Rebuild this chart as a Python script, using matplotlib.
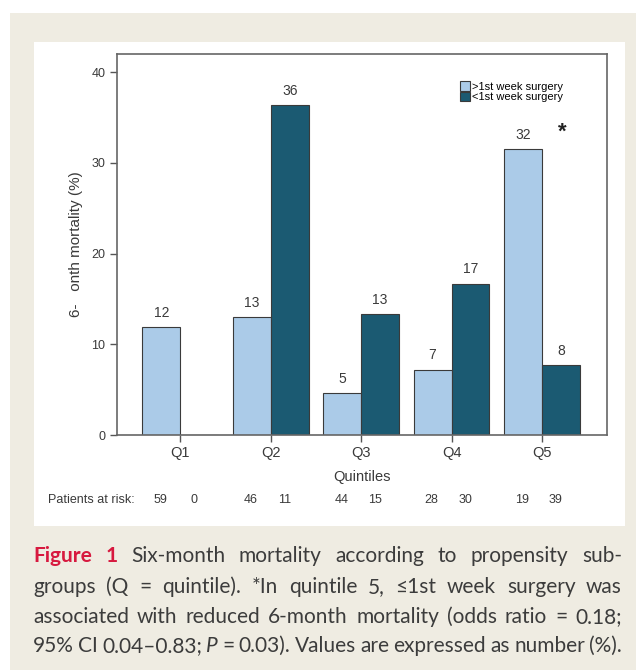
import matplotlib
matplotlib.use("Agg")
import matplotlib.pyplot as plt
from matplotlib.patches import Rectangle
from matplotlib.transforms import blended_transform_factory
import numpy as np

# data
quintiles = ["Q1", "Q2", "Q3", "Q4", "Q5"]
late_surgery = [11.9, 13.0, 4.6, 7.2, 31.5]     # >1st week surgery
early_surgery = [0.0, 36.4, 13.3, 16.7, 7.7]    # <1st week surgery
risk_late = [59, 46, 44, 28, 19]
risk_early = [0, 11, 15, 30, 39]
yticks = [0, 10, 20, 30, 40]

W, H = 636, 670
LIGHT = "#abcbe8"
DARK = "#1b5a72"
GREY = "#3a3a3a"

plt.rcParams["font.family"] = ["Liberation Sans", "DejaVu Sans"]


def fx(px):
    return px / W


def fy(py):
    return 1 - py / H


fig = plt.figure(figsize=(W / 100, H / 100), dpi=100)
fig.patch.set_facecolor("white")

# beige page box and white chart panel
fig.add_artist(Rectangle((fx(10), 0), 1 - fx(10), fy(13), transform=fig.transFigure,
                         facecolor="#efece2", edgecolor="none", zorder=-2))
fig.add_artist(Rectangle((fx(34), fy(526)), fx(625 - 34), (526 - 42) / H,
                         transform=fig.transFigure, facecolor="white",
                         edgecolor="none", zorder=-1))

ax = fig.add_axes([fx(117), fy(435), fx(607 - 117), (435 - 54) / H])
x = np.arange(1, len(quintiles) + 1)
bw = 0.42
b1 = ax.bar(x - bw / 2, late_surgery, bw, color=LIGHT, edgecolor=GREY, linewidth=0.8,
            label=">1st week surgery")
b2 = ax.bar(x + bw / 2, early_surgery, bw, color=DARK, edgecolor=GREY, linewidth=0.8,
            label="<1st week surgery")

for bars, vals in ((b1, late_surgery), (b2, early_surgery)):
    for r, v in zip(bars, vals):
        if v == 0:
            continue
        ax.text(r.get_x() + r.get_width() / 2, v + 0.8, f"{v:.0f}", ha="center",
                va="bottom", fontsize=10, color=GREY)

ax.text(5.23, 33.4, "*", ha="center", va="center", fontsize=16, fontweight="bold",
        color="#222222")

ax.set_xlim(0.3, 5.72)
ax.set_ylim(0, 42)
ax.set_xticks(x)
ax.set_xticklabels(quintiles, fontsize=10.5, color=GREY)
ax.set_yticks(yticks)
ax.set_yticklabels([str(t) for t in yticks], fontsize=9, color=GREY)
ax.tick_params(axis="both", direction="out", length=5, width=1, color="#555555")
ax.tick_params(axis="x", pad=3)
for s in ax.spines.values():
    s.set_color("#666666")
    s.set_linewidth(1.2)

ax.set_xlabel("Quintiles", fontsize=10.5, color=GREY, labelpad=7)
ax.set_ylabel("6-   onth mortality (%)", fontsize=11, color=GREY, labelpad=6)

ax.legend(loc="upper left", bbox_to_anchor=(0.69, 0.94), frameon=False, fontsize=8,
          handlelength=0.9, handleheight=0.9, handletextpad=0.2, labelspacing=0.0,
          borderaxespad=0)

# patients at risk row
tr = blended_transform_factory(ax.transData, fig.transFigure)
fig.text(fx(48), fy(500), "Patients at risk:", fontsize=9, color=GREY, va="center")
for xi, a, b in zip(x, risk_late, risk_early):
    ax.text(xi - 0.22, fy(500), str(a), transform=tr, fontsize=9, color=GREY,
            ha="center", va="center")
    ax.text(xi + 0.15, fy(500), str(b), transform=tr, fontsize=9, color=GREY,
            ha="center", va="center")

# justified caption
RED = "#d7193f"
TXT = "#3c3c3c"
FAM = ["Lato", "DejaVu Sans"]
cap_lines = [
    [("Figure", "b"), ("1", "b"), ("Six-month", ""), ("mortality", ""), ("according", ""),
     ("to", ""), ("propensity", ""), ("sub-", "")],
    [("groups", ""), ("(Q", ""), ("=", ""), ("quintile).", ""), ("*In", ""),
     ("quintile", ""), ("5,", ""), ("≤1st", ""), ("week", ""), ("surgery", ""), ("was", "")],
    [("associated", ""), ("with", ""), ("reduced", ""), ("6-month", ""), ("mortality", ""),
     ("(odds", ""), ("ratio", ""), ("=", ""), ("0.18;", "")],
    [("95%", ""), ("CI", ""), ("0.04–0.83;", ""), ("P", "i"), ("=", ""), ("0.03).", ""),
     ("Values", ""), ("are", ""), ("expressed", ""), ("as", ""), ("number", ""), ("(%).", "")],
]
baselines = [562, 593, 623, 652]
x0, x1 = 33, 622
renderer = fig.canvas.get_renderer()
for words, base in zip(cap_lines, baselines):
    arts = []
    for w, st in words:
        t = fig.text(0, fy(base), w, fontsize=15, family=FAM, va="baseline", ha="left",
                     color=RED if st == "b" else TXT,
                     fontweight="bold" if st == "b" else "normal",
                     fontstyle="italic" if st == "i" else "normal")
        arts.append(t)
    widths = [a.get_window_extent(renderer).width for a in arts]
    gap = (x1 - x0 - sum(widths)) / (len(arts) - 1)
    pos = x0
    for a, wd in zip(arts, widths):
        a.set_x(fx(pos))
        pos += wd + gap

fig.savefig("out.png", dpi=100)
